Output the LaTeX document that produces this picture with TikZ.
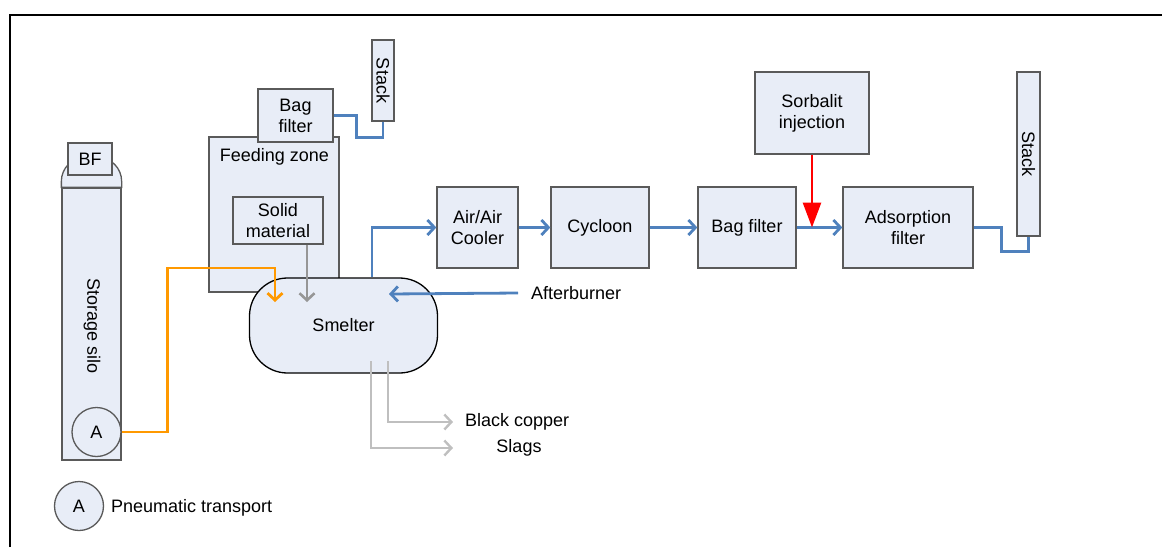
\documentclass[tikz,border=0pt]{standalone}
\usepackage{fontspec}
\setmainfont{Liberation Sans}
\definecolor{flowblue}{RGB}{79, 129, 189}
\definecolor{pneuorange}{RGB}{255, 153, 0}
\definecolor{unitfill}{RGB}{232, 237, 247}
\definecolor{unitline}{RGB}{90, 90, 90}
\definecolor{outgrey}{RGB}{191, 191, 191}
\definecolor{feedgrey}{RGB}{150, 150, 150}
\usetikzlibrary{arrows.meta, calc}

\begin{document}
\begin{tikzpicture}[x=1pt, y=-1pt, font=\fontsize{18}{21}\selectfont,
  unit/.style={draw=unitline, fill=unitfill, line width=1.3pt, inner sep=0pt, align=center},
  duct/.style={flowblue, line width=2.8pt},
  flow/.style={duct, -{Straight Barb[length=7pt, width=15pt, line width=2.8pt]}},
  pneu/.style={pneuorange, line width=2.8pt, -{Straight Barb[length=7pt, width=15pt, line width=2.8pt]}},
  feed/.style={feedgrey, line width=2.6pt, -{Straight Barb[length=7pt, width=15pt, line width=2.6pt]}},
  output/.style={outgrey, line width=2.4pt, -{Straight Barb[length=7pt, width=15pt, line width=2.4pt]}},
  inject/.style={red, line width=2.8pt, -{Triangle[length=25pt, width=18pt]}}]
  \useasboundingbox (0,0) rectangle (1162,547);

  % frame
  \draw[line width=2pt] (9.5,547) -- (9.5,15) -- (1162,15);

  % storage silo
  \node[unit, minimum width=59pt, minimum height=272pt] (silo) at (91.5,324) {};
  \draw[unit] (silo.north west) [rounded corners=24pt] -- ++(0,-30) -- ($(silo.north east)+(0,-30)$) [sharp corners] -- (silo.north east) -- cycle;
  \node[rotate=-90] (silotext) at (92,326) {Storage silo};
  \node[unit, minimum width=44pt, minimum height=32pt] (bf) at (90,159) {BF};
  \node[unit, circle, minimum size=49pt] (pa) at (96.5,432) {A};

  % legend
  \node[unit, circle, minimum size=49pt] (legendA) at (79,506) {A};
  \node[anchor=west, inner sep=0pt] (legendtext) at (111,508) {Pneumatic transport};

  % feeding zone and smelter
  \node[unit, minimum width=130pt, minimum height=155pt] (feeding) at (274,214.5) {};
  \node (feedingtext) at (274.5,157) {Feeding zone};
  \node[unit, minimum width=75pt, minimum height=53pt] (bagA) at (295.5,115.5) {Bag\\filter};
  \node[unit, rotate=-90, minimum width=81pt, minimum height=22pt] (stackA) at (383,80.5) {Stack};
  \node[unit, minimum width=90pt, minimum height=47pt] (solid) at (278,220.5) {Solid\\material};
  \node[unit, draw=black, rounded corners=38pt, minimum width=188pt, minimum height=95pt] (smelter) at (343.5,325.5) {Smelter};

  % gas cleaning line
  \node[unit, minimum width=81pt, minimum height=81pt] (cooler) at (477.5,227.5) {Air/Air\\Cooler};
  \node[unit, minimum width=98pt, minimum height=81pt] (cycloon) at (600,227.5) {Cycloon};
  \node[unit, minimum width=98pt, minimum height=81pt] (bagB) at (747,227.5) {Bag filter};
  \node[unit, minimum width=130pt, minimum height=81pt] (adsorption) at (908,227.5) {Adsorption\\filter};
  \node[unit, minimum width=114pt, minimum height=82pt] (sorbalit) at (812,113) {Sorbalit\\injection};
  \node[unit, rotate=-90, minimum width=164pt, minimum height=23pt] (stackB) at (1028.5,154) {Stack};

  % in- and outputs
  \node[anchor=west, inner xsep=13pt, inner ysep=0pt] (afterburner) at (518,293) {Afterburner};
  \node[anchor=west, inner xsep=12pt, inner ysep=0pt] (copper) at (453,422) {Black copper};
  \node[inner sep=0pt] (slags) at (519,448) {Slags};
  \coordinate (afterin) at (389,294);
  \coordinate (feedin) at (307,302);
  \coordinate (pneuin) at (275,302);
  \coordinate (coppertap) at (388,361);
  \coordinate (slagtap) at (371,361);

  % connectors
  \draw[duct] (bagA.east) -- ++(23,0) -- ++(0,22) -| (stackA.east);
  \draw[flow] ($(smelter.north)+(28.5,0)$) |- (cooler.west);
  \draw[flow] (cooler.east) -- (cycloon.west);
  \draw[flow] (cycloon.east) -- (bagB.west);
  \draw[flow] (bagB.east) -- (adsorption.west);
  \draw[duct] (adsorption.east) -- ++(28,0) -- ++(0,24) -| (stackB.east);
  \draw[inject] (sorbalit.south) -- (sorbalit.south |- bagB.east);
  \draw[flow] (afterburner.west) -- (afterin);
  \draw[feed] (feedin |- solid.south) -- (feedin);
  \draw[pneu] (pa.east) -- ++(46,0) -- ++(0,-164) -| (pneuin);
  \draw[output] (coppertap) |- (copper.west);
  \draw[output] (slagtap) |- (copper.west |- slags.west);
\end{tikzpicture}
\end{document}
